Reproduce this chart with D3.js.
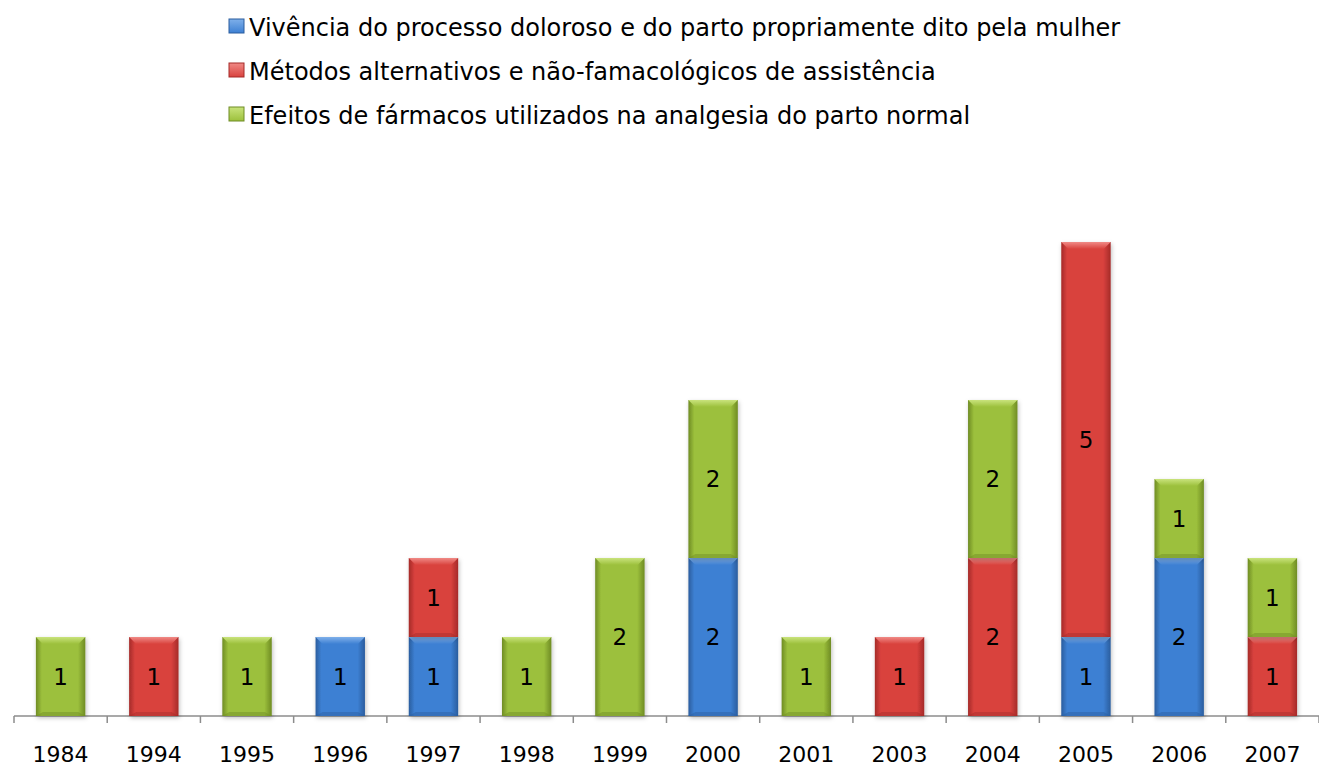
<!DOCTYPE html>
<html>
<head>
<meta charset="utf-8">
<script src="https://cdn.jsdelivr.net/npm/d3@7"></script>
<style>
  body { margin: 0; background: #fff; overflow: hidden; }
  text { font-family: "DejaVu Sans", Verdana, sans-serif; }
</style>
</head>
<body>
<script>
// data
var years = ["1984","1994","1995","1996","1997","1998","1999","2000","2001","2003","2004","2005","2006","2007"];
var vivencia = [0,0,0,1,1,0,0,2,0,0,0,1,2,0];
var metodos  = [0,1,0,0,1,0,0,0,0,1,2,5,0,1];
var efeitos  = [1,0,1,0,0,1,2,2,1,0,2,0,1,1];
var seriesNames = [
  "Vivência do processo doloroso e do parto propriamente dito pela mulher",
  "Métodos alternativos e não-famacológicos de assistência",
  "Efeitos de fármacos utilizados na analgesia do parto normal"
];
var colors = [
  {mid: "#3d80d3", dark: "#2a5d9e", light: "#7fb0ea"},
  {mid: "#d9423e", dark: "#a52a28", light: "#f08a86"},
  {mid: "#9cc03c", dark: "#6f8c24", light: "#c9e37c"}
];

var w = 1319, h = 767;
var svg = d3.select("body").append("svg").attr("width", w).attr("height", h).style("display", "block");

var x = d3.scaleBand().domain(years).range([14, 1319]).paddingInner(0.47).paddingOuter(0.235);
var y = d3.scaleLinear().domain([0, 6]).range([716, 242]);

// gradients
var defs = svg.append("defs");
colors.forEach(function(c, i) {
  var g = defs.append("linearGradient").attr("id", "hg" + i).attr("x1", 0).attr("x2", 1).attr("y1", 0).attr("y2", 0);
  g.append("stop").attr("offset", "0%").attr("stop-color", c.dark);
  g.append("stop").attr("offset", "12%").attr("stop-color", c.mid);
  g.append("stop").attr("offset", "85%").attr("stop-color", c.mid);
  g.append("stop").attr("offset", "100%").attr("stop-color", c.dark);
  var t = defs.append("linearGradient").attr("id", "tg" + i).attr("x1", 0).attr("x2", 0).attr("y1", 0).attr("y2", 1);
  t.append("stop").attr("offset", "0%").attr("stop-color", c.light);
  t.append("stop").attr("offset", "100%").attr("stop-color", c.mid);
});
var sh = defs.append("filter").attr("id", "shadow").attr("x", "-20%").attr("y", "-10%").attr("width", "140%").attr("height", "130%");
sh.append("feDropShadow").attr("dx", 1).attr("dy", 2).attr("stdDeviation", 2).attr("flood-color", "#000").attr("flood-opacity", 0.25);

var stackData = years.map(function(yr, i) {
  return {year: yr, v: [vivencia[i], metodos[i], efeitos[i]]};
});

var segs = [];
stackData.forEach(function(d) {
  var base = 0;
  d.v.forEach(function(val, s) {
    if (val > 0) {
      segs.push({year: d.year, s: s, y0: base, y1: base + val, val: val});
      base += val;
    }
  });
});

// axis
var axisG = svg.append("g").attr("transform", "translate(0,716)");
axisG.append("line").attr("x1", 14).attr("x2", 1319).attr("y1", 0).attr("y2", 0)
  .attr("stroke", "#8c8c8c").attr("stroke-width", 1.5);
var step = x.step();
d3.range(years.length + 1).forEach(function(i) {
  var xx = 14 + i * step;
  axisG.append("line").attr("x1", xx).attr("x2", xx).attr("y1", 0).attr("y2", 7)
    .attr("stroke", "#8c8c8c").attr("stroke-width", 1.5);
});

var bars = svg.append("g");
var bw = x.bandwidth();
segs.forEach(function(d) {
  var x0 = x(d.year), yTop = y(d.y1), hh = y(d.y0) - y(d.y1);
  var g = bars.append("g").attr("filter", "url(#shadow)");
  g.append("rect").attr("x", x0).attr("y", yTop).attr("width", bw).attr("height", hh)
    .attr("fill", "url(#hg" + d.s + ")");
  // top bevel
  var bv = 7;
  g.append("path")
    .attr("d", "M" + x0 + "," + yTop + "L" + (x0 + bw) + "," + yTop + "L" + (x0 + bw - bv) + "," + (yTop + bv) + "L" + (x0 + bv) + "," + (yTop + bv) + "Z")
    .attr("fill", "url(#tg" + d.s + ")");
  // bottom bevel
  g.append("path")
    .attr("d", "M" + x0 + "," + (yTop + hh) + "L" + (x0 + bw) + "," + (yTop + hh) + "L" + (x0 + bw - bv) + "," + (yTop + hh - 4) + "L" + (x0 + bv) + "," + (yTop + hh - 4) + "Z")
    .attr("fill", colors[d.s].dark).attr("opacity", 0.45);
  bars.append("text").attr("x", x0 + bw / 2).attr("y", yTop + hh / 2 + 8)
    .attr("text-anchor", "middle").attr("font-size", 23).attr("fill", "#000").text(d.val);
});

// x labels
svg.append("g").selectAll("text").data(years).enter().append("text")
  .attr("x", function(d) { return x(d) + bw / 2; })
  .attr("y", 762)
  .attr("text-anchor", "middle").attr("font-size", 22).attr("fill", "#000")
  .text(function(d) { return d; });

// legend
var leg = svg.append("g");
seriesNames.forEach(function(n, i) {
  var yy = 36 + i * 44;
  leg.append("rect").attr("x", 229).attr("y", yy - 17).attr("width", 15).attr("height", 14)
    .attr("fill", "url(#tg" + i + ")").attr("stroke", colors[i].dark).attr("stroke-width", 1);
  leg.append("text").attr("x", 249).attr("y", yy).attr("font-size", 24).attr("fill", "#000").text(n);
});
</script>
</body>
</html>
